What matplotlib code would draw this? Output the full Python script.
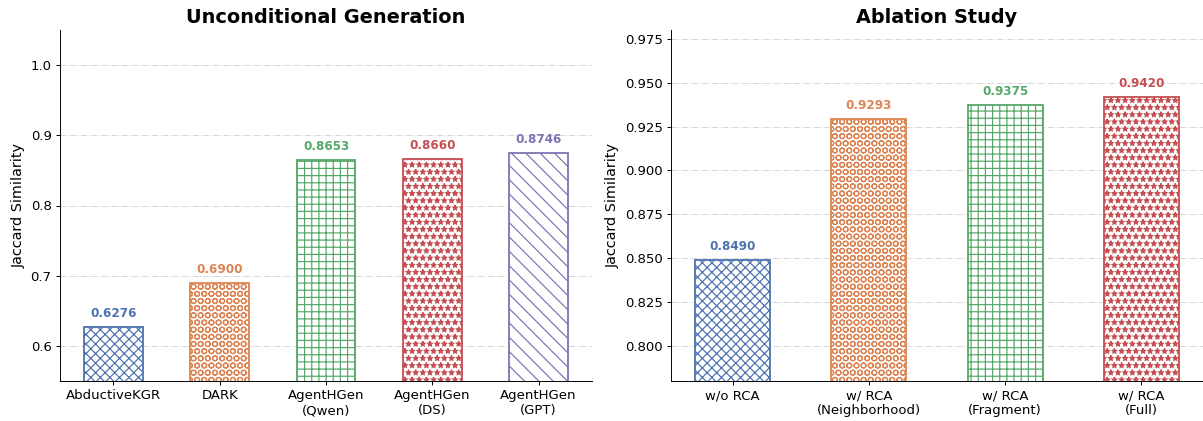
import matplotlib
matplotlib.use("Agg")
import matplotlib.pyplot as plt

# Data
uncond_labels = ["AbductiveKGR", "DARK", "AgentHGen\n(Qwen)", "AgentHGen\n(DS)", "AgentHGen\n(GPT)"]
uncond_values = [0.6276, 0.6900, 0.8653, 0.8660, 0.8746]
ablation_labels = ["w/o RCA", "w/ RCA\n(Neighborhood)", "w/ RCA\n(Fragment)", "w/ RCA\n(Full)"]
ablation_values = [0.8490, 0.9293, 0.9375, 0.9420]

colors = ["#4C72B0", "#DD8452", "#55A868", "#C44E52", "#8172B3"]
hatches = ["xxx", "OO", "++", "**", "\\\\"]

DPI = 86.4
fig = plt.figure(figsize=(1203 / DPI, 421 / DPI), dpi=DPI)
plt.rcParams['hatch.linewidth'] = 1.0

bottom = 1 - 381 / 421
height = (381 - 30) / 421
ax1 = fig.add_axes([60 / 1203, bottom, 532 / 1203, height])
ax2 = fig.add_axes([671 / 1203, bottom, 532 / 1203, height])


def draw(ax, labels, values, ylim, offset, title):
    x = list(range(len(values)))
    for i, v in enumerate(values):
        ax.bar(x[i], v, width=0.55, color="white", edgecolor=colors[i],
               hatch=hatches[i], linewidth=1.5, zorder=3)
        ax.text(x[i], v + offset, f"{v:.4f}", ha="center", va="bottom",
                fontsize=10, fontweight="bold", color=colors[i], zorder=4)
    ax.set_xticks(x)
    ax.set_xticklabels(labels, fontsize=11)
    ax.set_ylim(*ylim)
    ax.tick_params(axis="y", labelsize=11)
    ax.set_ylabel("Jaccard Similarity", fontsize=12)
    ax.set_title(title, fontsize=16, fontweight="bold")
    ax.yaxis.grid(True, linestyle="-.", color="#cccccc", alpha=0.8, linewidth=0.8)
    ax.set_axisbelow(True)
    ax.spines["top"].set_visible(False)
    ax.spines["right"].set_visible(False)


draw(ax1, uncond_labels, uncond_values, (0.55, 1.05), 0.01, "Unconditional Generation")
draw(ax2, ablation_labels, ablation_values, (0.78, 0.98), 0.004, "Ablation Study")

fig.savefig("out.png", dpi=DPI)
